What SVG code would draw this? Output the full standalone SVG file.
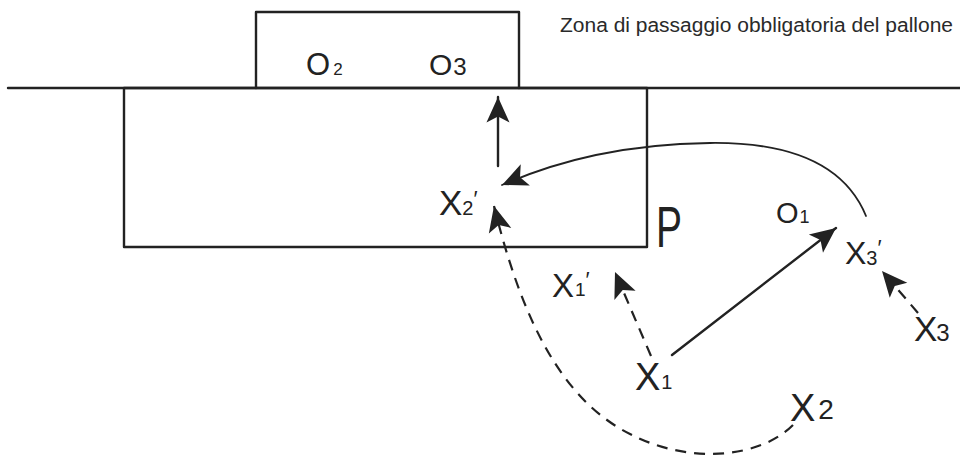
<svg xmlns="http://www.w3.org/2000/svg" width="960" height="457" viewBox="0 0 960 457">
<defs>
<style>
.ln{fill:none;stroke:#222;stroke-width:2.4;stroke-linecap:round;stroke-linejoin:round}
.thin{fill:none;stroke:#222;stroke-width:1.8;stroke-linecap:round}
.dash{fill:none;stroke:#222;stroke-width:2.2;stroke-dasharray:11 8}
.hw{font-family:"Liberation Sans",Arial,sans-serif;fill:#222}
.cap{font-family:"Liberation Sans",Arial,sans-serif;fill:#2a2a2a;font-size:19.5px}
</style>
<marker id="ah" markerUnits="userSpaceOnUse" markerWidth="30" markerHeight="30" viewBox="-24 -12 26 24" refX="0" refY="0" orient="auto">
<path d="M0,0 L-22,-10 L-17,0 L-22,10 Z" fill="#222" stroke="none"/>
</marker>
</defs>
<rect width="960" height="457" fill="#fff"/>
<g id="field">
<line class="ln" x1="8" y1="88" x2="960" y2="88"/>
<path class="ln" d="M256 88 V12 H519 V88"/>
<rect id="area" class="ln" x="124" y="88" width="523" height="159"/>
</g>
<text class="cap" x="560" y="32" textLength="393" lengthAdjust="spacingAndGlyphs">Zona di passaggio obbligatoria del pallone</text>
<g id="connectors">
<line class="ln" x1="498" y1="166" x2="498" y2="97" stroke-width="4" marker-end="url(#ah)"/>
<path class="thin" d="M866 216 C845 165 790 142 710 143 C625 144 560 160 502 185" marker-end="url(#ah)"/>
<path class="dash" d="M793 425 C760 458 690 465 630 434 C562 400 522 320 494 206" marker-end="url(#ah)"/>
<path class="dash" d="M651 356 L615 272" marker-end="url(#ah)"/>
<line class="ln" x1="672" y1="355" x2="836" y2="228" marker-end="url(#ah)"/>
<path class="dash" d="M918 313 L882 271" marker-end="url(#ah)"/>
</g>
<g id="O2"><text class="hw" x="306" y="75" font-size="31">O<tspan font-size="17" dx="3">2</tspan></text></g>
<g id="O3"><text class="hw" x="429" y="75" font-size="30">O<tspan font-size="24" dx="1">3</tspan></text></g>
<g id="X2p"><text class="hw" x="439" y="215" font-size="35">X<tspan font-size="20" dx="0">2</tspan><tspan font-size="22" dy="-9">′</tspan></text></g>
<g id="P"><text class="hw" x="656" y="247" font-size="58" textLength="26" lengthAdjust="spacingAndGlyphs">P</text></g>
<g id="X1p"><text class="hw" x="552" y="297" font-size="33">X<tspan font-size="19" dx="1" dy="-1">1</tspan><tspan font-size="22" dy="-9">′</tspan></text></g>
<g id="X1"><text class="hw" x="635" y="390" font-size="38">X<tspan font-size="20" dx="1" dy="-1">1</tspan></text></g>
<g id="X2"><text class="hw" x="790" y="421" font-size="38">X<tspan font-size="28" dx="3" dy="-2">2</tspan></text></g>
<g id="O1"><text class="hw" x="776" y="223" font-size="29">O<tspan font-size="18" dx="1">1</tspan></text></g>
<g id="X3p"><text class="hw" x="845" y="264" font-size="32">X<tspan font-size="20" dy="1">3</tspan><tspan font-size="22" dy="-10">′</tspan></text></g>
<g id="X3"><text class="hw" x="914" y="341" font-size="35">X<tspan font-size="24" dx="-1">3</tspan></text></g>
</svg>
